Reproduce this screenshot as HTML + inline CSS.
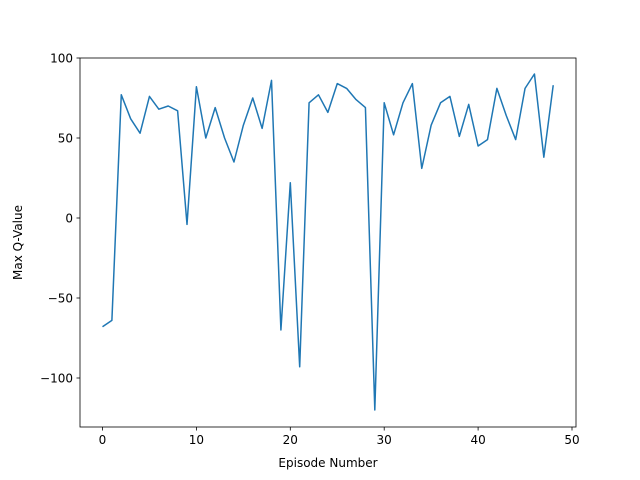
<!DOCTYPE html>
<html><head><meta charset="utf-8"><style>body{margin:0;background:#fff}svg{display:block;font-family:"DejaVu Sans","Liberation Sans",sans-serif}</style></head>
<body>
<svg id="chart" width="640" height="480"></svg>
<script>
const episodes = Array.from({length:49},(_,i)=>i);
const qValues = [-68,-64,77,62,53,76,68,70,67,-4,82,50,69,50,35,58,75,56,86,-70,22,-93,72,77,66,84,81,74,69,-120,72,52,72,84,31,58,72,76,51,71,45,49,81,64,49,81,90,38,83];
const xTicks = [0,10,20,30,40,50];
const yTicks = [-100,-50,0,50,100];
const NS='http://www.w3.org/2000/svg';
const svg=document.getElementById('chart');
const L=80,R=576,T=58,B=427;
const xS=v=>102.5+v*9.39;
const yS=v=>218-v*1.6;
function mk(t,a){const e=document.createElementNS(NS,t);for(const k in a)e.setAttribute(k,a[k]);svg.appendChild(e);return e;}
const frame=mk('rect',{x:L,y:T,width:R-L,height:B-T,fill:'none',stroke:'#000','stroke-width':0.8});


xTicks.forEach(v=>{const x=xS(v);
 const t=mk('line',{x1:x,x2:x,y1:B,y2:B+3.5,stroke:'#000','stroke-width':0.8});
 
 
 const l=mk('text',{x:x,y:B+17,'font-size':12,'text-anchor':'middle'});l.textContent=v;
 
 });
yTicks.forEach(v=>{const y=yS(v);
 const t=mk('line',{x1:L-3.5,x2:L,y1:y,y2:y,stroke:'#000','stroke-width':0.8});
 
 
 const l=mk('text',{x:L-7,y:y+4.5,'font-size':12,'text-anchor':'end'});l.textContent=String(v).replace('-','\u2212');
 
 });
const pts=episodes.map((e,i)=>xS(e)+','+yS(qValues[i])).join(' ');
const line=mk('polyline',{points:pts,fill:'none',stroke:'#1f77b4','stroke-width':1.5,'stroke-linejoin':'round'});


const xt=mk('text',{x:(L+R)/2,y:467,'font-size':12,'text-anchor':'middle'});xt.textContent='Episode Number';


const yt=mk('text',{x:0,y:0,'font-size':12,'text-anchor':'middle',transform:'translate(22,'+((T+B)/2)+') rotate(-90)'});yt.textContent='Max Q-Value';


</script>
</body></html>
